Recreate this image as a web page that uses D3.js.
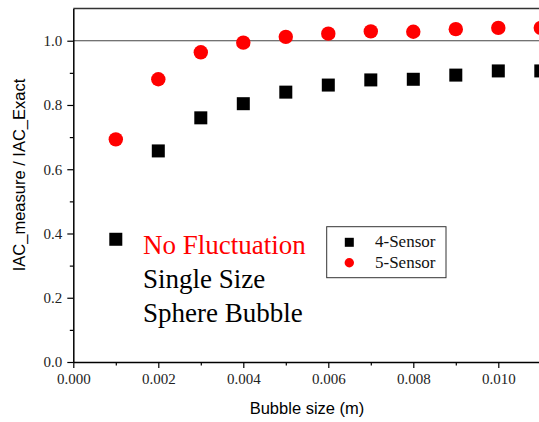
<!DOCTYPE html>
<html><head><meta charset="utf-8">
<script src="https://cdn.jsdelivr.net/npm/d3@7"></script>
<style>html,body{margin:0;padding:0;background:#fff;overflow:hidden}</style>
</head><body>
<script>
const bubbleSizes = [0.001,0.002,0.003,0.004,0.005,0.006,0.007,0.008,0.009,0.010,0.011];
const sensor4 = [0.382,0.657,0.760,0.804,0.840,0.862,0.878,0.880,0.893,0.906,0.906];
const sensor5 = [0.693,0.880,0.964,0.994,1.012,1.022,1.029,1.028,1.036,1.040,1.040];
const xTicks = [0,0.002,0.004,0.006,0.008,0.010];
const xMinor = [0.001,0.003,0.005,0.007,0.009,0.011];
const yTicks = [0,0.2,0.4,0.6,0.8,1.0];
const yMinor = [0.1,0.3,0.5,0.7,0.9];
const annotation = [{t:"No Fluctuation",c:"#ff0000"},{t:"Single Size",c:"#000"},{t:"Sphere Bubble",c:"#000"}];
const legendItems = [{label:"4-Sensor",shape:"square",color:"#000"},{label:"5-Sensor",shape:"circle",color:"#ff0000"}];

const W=539,H=422;
const svg=d3.select("body").append("svg").attr("width",W).attr("height",H);
const x=d3.scaleLinear().domain([0,0.011]).range([73.3,540.8]);
const y=d3.scaleLinear().domain([0,1.1]).range([362,8.6]);
const serif="'Liberation Serif','Times New Roman',serif";
const sans="'Liberation Sans',Arial,sans-serif";

// reference line at 1.0
svg.append("line").attr("x1",x(0)).attr("x2",W).attr("y1",y(1)).attr("y2",y(1))
  .attr("stroke","#444").attr("stroke-width",1.2);
// top border
svg.append("line").attr("x1",x(0)).attr("x2",W).attr("y1",y(1.1)).attr("y2",y(1.1))
  .attr("stroke","#333").attr("stroke-width",1.5);

const xAxis=svg.append("g").attr("transform",`translate(0,${y(0)})`)
  .call(d3.axisBottom(x).tickValues(xTicks).tickFormat(d3.format(".3f")).tickSize(6).tickSizeOuter(0));
svg.append("g").attr("transform",`translate(0,${y(0)})`)
  .call(d3.axisBottom(x).tickValues(xMinor).tickFormat("").tickSize(3.5).tickSizeOuter(0))
  .call(g=>g.select(".domain").remove());
const yAxis=svg.append("g").attr("transform",`translate(${x(0)},0)`)
  .call(d3.axisLeft(y).tickValues(yTicks).tickFormat(d3.format(".1f")).tickSize(6).tickSizeOuter(0));
svg.append("g").attr("transform",`translate(${x(0)},0)`)
  .call(d3.axisLeft(y).tickValues(yMinor).tickFormat("").tickSize(3.5).tickSizeOuter(0))
  .call(g=>g.select(".domain").remove());
svg.selectAll(".domain").attr("stroke","#000").attr("stroke-width",1.5);
svg.selectAll(".tick line").attr("stroke","#000").attr("stroke-width",1.2);
xAxis.selectAll("text").attr("font-family",serif).attr("font-size",15).attr("fill","#222").attr("y",22).attr("dy",0);
yAxis.selectAll("text").attr("font-family",serif).attr("font-size",15).attr("fill","#222").attr("x",-11).attr("dy","0.33em");

svg.append("text").attr("x",307).attr("y",414).attr("text-anchor","middle")
  .attr("font-family",sans).attr("font-size",16.5).text("Bubble size (m)");
svg.append("text").attr("transform",`translate(24.5,175) rotate(-90)`)
  .attr("text-anchor","middle").attr("font-family",sans).attr("font-size",16.5).text("IAC_measure / IAC_Exact");

// data
const sq=13, cr=7.2;
svg.append("g").selectAll("rect").data(bubbleSizes).join("rect")
  .attr("x",d=>x(d)-sq/2).attr("y",(d,i)=>y(sensor4[i])-sq/2).attr("width",sq).attr("height",sq).attr("fill","#000");
svg.append("g").selectAll("circle").data(bubbleSizes).join("circle")
  .attr("cx",d=>x(d)).attr("cy",(d,i)=>y(sensor5[i])).attr("r",cr).attr("fill","#ff0000");

// annotation
svg.append("g").selectAll("text").data(annotation).join("text")
  .attr("x",143).attr("y",(d,i)=>254.3+i*33.7).attr("font-family",serif).attr("font-size",27)
  .attr("fill",d=>d.c).text(d=>d.t);

// legend
const lg=svg.append("g");
lg.append("rect").attr("x",326.7).attr("y",226.7).attr("width",119.3).attr("height",51)
  .attr("fill","#fff").attr("stroke","#333").attr("stroke-width",1);
legendItems.forEach((d,i)=>{
  const cy=242.3+i*20.4;
  if(d.shape==="square") lg.append("rect").attr("x",349.3-4.5).attr("y",cy-4.5).attr("width",9).attr("height",9).attr("fill",d.color);
  else lg.append("circle").attr("cx",349.3).attr("cy",cy).attr("r",4.7).attr("fill",d.color);
  lg.append("text").attr("x",375).attr("y",cy+5).attr("font-family",serif).attr("font-size",17).attr("fill","#111").text(d.label);
});
</script>
</body></html>
